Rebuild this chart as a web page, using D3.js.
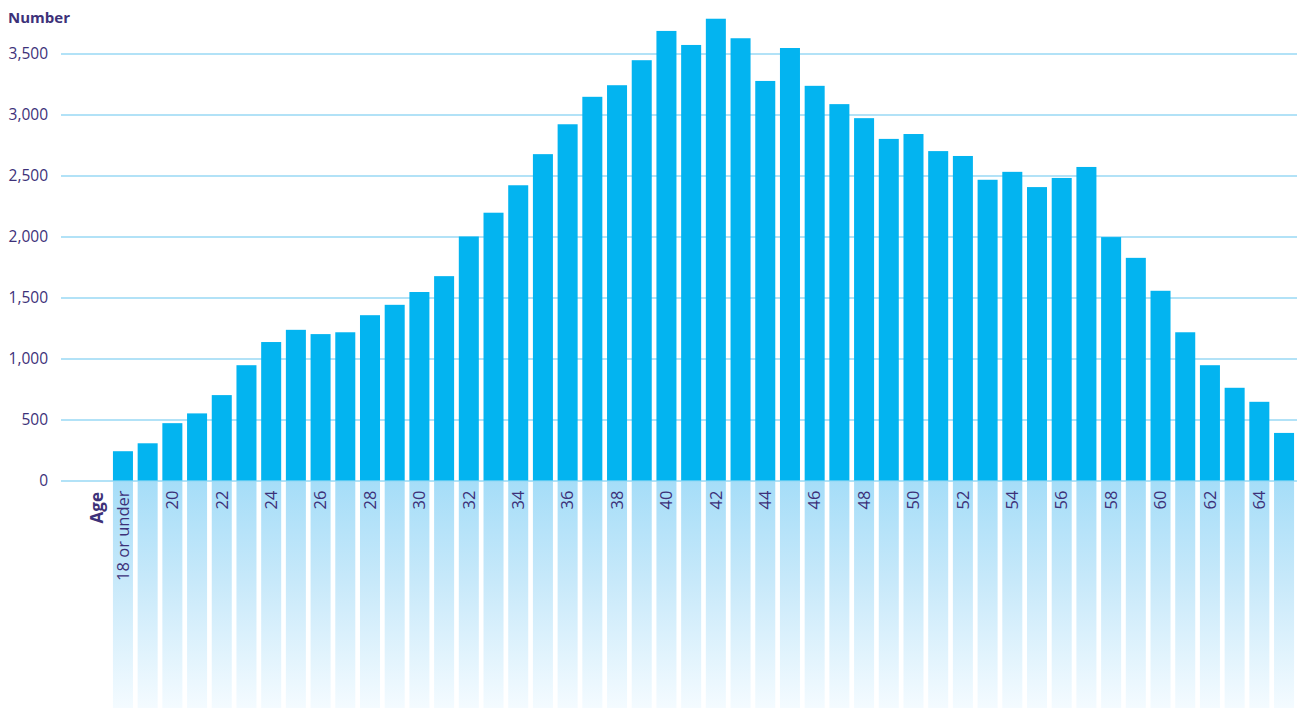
<!DOCTYPE html>
<html>
<head>
<meta charset="utf-8">
<script src="https://cdn.jsdelivr.net/npm/d3@7"></script>
<style>
  html, body { margin: 0; padding: 0; background: #ffffff; }
  svg { display: block; }
  text { font-family: "Open Sans", "Noto Sans", sans-serif; fill: #3d3179; }
</style>
</head>
<body>
<div id="chart"></div>
<script>
// Age categories (one bar each)
const ages = ["18 or under"].concat(d3.range(19, 66).map(String));

// Headcount per age
const counts = [
  240, 305, 470, 550, 700, 945, 1135, 1235, 1200, 1215,
  1355, 1440, 1545, 1675, 2000, 2195, 2420, 2675, 2920, 3145,
  3240, 3445, 3685, 3570, 3785, 3625, 3275, 3545, 3235, 3085,
  2970, 2800, 2840, 2700, 2660, 2465, 2530, 2405, 2480, 2570,
  1995, 1825, 1555, 1215, 945, 760, 645, 390
];

// Age labels shown on the axis
const ageTicks = ["18 or under"].concat(d3.range(20, 65, 2).map(String));

// Value axis ticks
const valueTicks = [0, 500, 1000, 1500, 2000, 2500, 3000, 3500];

const width = 1299, height = 708;
const barColor = "#03b4f0";
const gridColor = "#98d8f5";

const svg = d3.select("#chart").append("svg")
  .attr("width", width)
  .attr("height", height);

const x = d3.scaleBand()
  .domain(ages)
  .range([110.6, 1296.4])
  .paddingInner(0.19)
  .paddingOuter(0.095);

const y = d3.scaleLinear()
  .domain([0, 3500])
  .range([480.5, 53.5]);

// Fading columns under the baseline
const defs = svg.append("defs");
const grad = defs.append("linearGradient")
  .attr("id", "fade")
  .attr("x1", 0).attr("y1", 0).attr("x2", 0).attr("y2", 1);
grad.append("stop").attr("offset", "0%").attr("stop-color", "#a5ddf8");
grad.append("stop").attr("offset", "45%").attr("stop-color", "#c8e9fa");
grad.append("stop").attr("offset", "100%").attr("stop-color", "#f4fbff");

svg.append("g")
  .selectAll("rect")
  .data(ages)
  .join("rect")
  .attr("x", d => x(d))
  .attr("y", y(0))
  .attr("width", x.bandwidth())
  .attr("height", height - y(0))
  .attr("fill", "url(#fade)");

// Horizontal gridlines with value labels
const yAxis = d3.axisLeft(y)
  .tickValues(valueTicks)
  .tickSize(-(1297 - 61))
  .tickPadding(13)
  .tickFormat(d3.format(","));

const gy = svg.append("g")
  .attr("transform", "translate(61,0)")
  .call(yAxis);
gy.select(".domain").remove();
gy.selectAll(".tick line")
  .attr("stroke", gridColor)
  .attr("stroke-width", 1.5);
gy.selectAll(".tick text")
  .attr("font-size", 15.5)
  .attr("font-family", "\"Open Sans\", \"Noto Sans\", sans-serif")
  .attr("fill", "#3d3179");

// Bars
svg.append("g")
  .selectAll("rect")
  .data(counts)
  .join("rect")
  .attr("x", (d, i) => x(ages[i]))
  .attr("y", d => y(d))
  .attr("width", x.bandwidth())
  .attr("height", d => y(0) - y(d))
  .attr("fill", barColor);

// Age axis labels, rotated
const xAxis = d3.axisBottom(x)
  .tickValues(ageTicks)
  .tickSize(0)
  .tickPadding(0);

const gx = svg.append("g")
  .attr("transform", `translate(0,${y(0)})`)
  .call(xAxis);
gx.select(".domain").remove();
gx.selectAll(".tick text")
  .attr("transform", "rotate(-90)")
  .attr("x", -10)
  .attr("y", 0)
  .attr("dy", "0.35em")
  .attr("text-anchor", "end")
  .attr("font-size", 16.5)
  .attr("font-family", "\"Open Sans\", \"Noto Sans\", sans-serif")
  .attr("fill", "#3d3179");

// Axis titles
svg.append("text")
  .attr("x", 8)
  .attr("y", 23)
  .attr("font-size", 15)
  .attr("font-weight", 700)
  .text("Number");

svg.append("text")
  .attr("transform", "translate(97,492) rotate(-90)")
  .attr("dy", "0.35em")
  .attr("text-anchor", "end")
  .attr("font-size", 17)
  .attr("font-weight", 700)
  .text("Age");
</script>
</body>
</html>
